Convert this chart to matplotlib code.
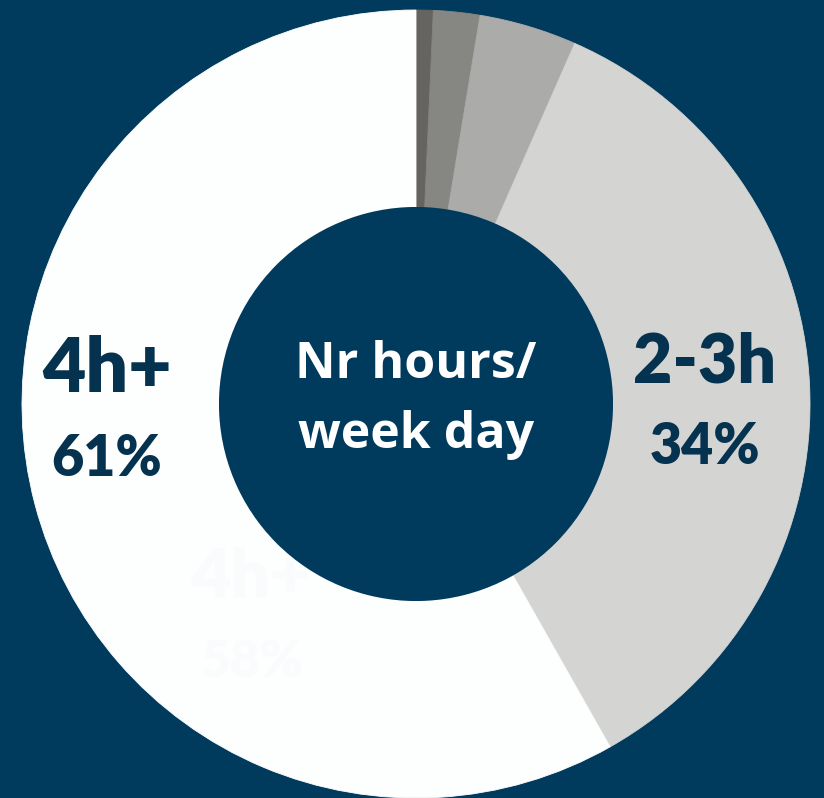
import matplotlib
matplotlib.use('Agg')
import matplotlib.pyplot as plt
from matplotlib.patches import Circle

# data (clockwise from 12 o'clock)
categories = ['<1h', '1h', '1-2h', '2-3h', '4h+']
shares = [0.7, 1.9, 4.0, 35.2, 58.2]
slice_colors = ['#656461', '#868682', '#ababaa', '#d4d5d3', '#fdfefe']
shown_labels = {'2-3h': '34%', '4h+': '61%'}
ghost_label = ('4h+', '58%')

BG = '#003a5c'
NAVY = '#05324f'

fig = plt.figure(figsize=(8.24, 7.98), dpi=100, facecolor=BG)
ax = fig.add_axes([0, 0, 1, 1])
ax.set_facecolor(BG)

cx, cy, r_out, r_in = 416, 394, 394, 197

wedges, _ = ax.pie(shares, colors=slice_colors, startangle=90, counterclock=False,
                   center=(cx, cy), radius=r_out, frame=True,
                   wedgeprops=dict(width=r_out - r_in, linewidth=0.6))
for w in wedges:
    w.set_edgecolor(w.get_facecolor())  # hide seams between slices
ax.set_xlim(0, 824)
ax.set_ylim(0, 798)
ax.set_aspect('equal')
ax.axis('off')

lbl = dict(family='Lato', weight='heavy', ha='center', va='center')

# faint leftover label on the white slice
ax.text(250, 798 - 578, ghost_label[0], fontsize=50, color='#f9fbfc', zorder=3, **lbl)
ax.text(252, 798 - 662, ghost_label[1], fontsize=37, color='#f9fbfc', zorder=3, **lbl)

# hole
ax.add_patch(Circle((cx, cy), r_in, facecolor=BG, edgecolor='none', zorder=4))

# slice labels
ax.text(107, 798 - 370, '4h+', fontsize=54, color=NAVY, zorder=5, **lbl)
ax.text(107, 798 - 459, shown_labels['4h+'], fontsize=40, color=NAVY, zorder=5, **lbl)
ax.text(705, 798 - 363, '2-3h', fontsize=49, color=NAVY, zorder=5, **lbl)
ax.text(705, 798 - 447, shown_labels['2-3h'], fontsize=40, color=NAVY, zorder=5, **lbl)

# centre title
ax.text(cx, 798 - 378, 'Nr hours/', family='Open Sans', weight='bold', fontsize=36,
        color='white', ha='center', va='baseline', zorder=5)
ax.text(cx, 798 - 448, 'week day', family='Open Sans', weight='bold', fontsize=36,
        color='white', ha='center', va='baseline', zorder=5)

fig.savefig('out.png', dpi=100, facecolor=BG)
